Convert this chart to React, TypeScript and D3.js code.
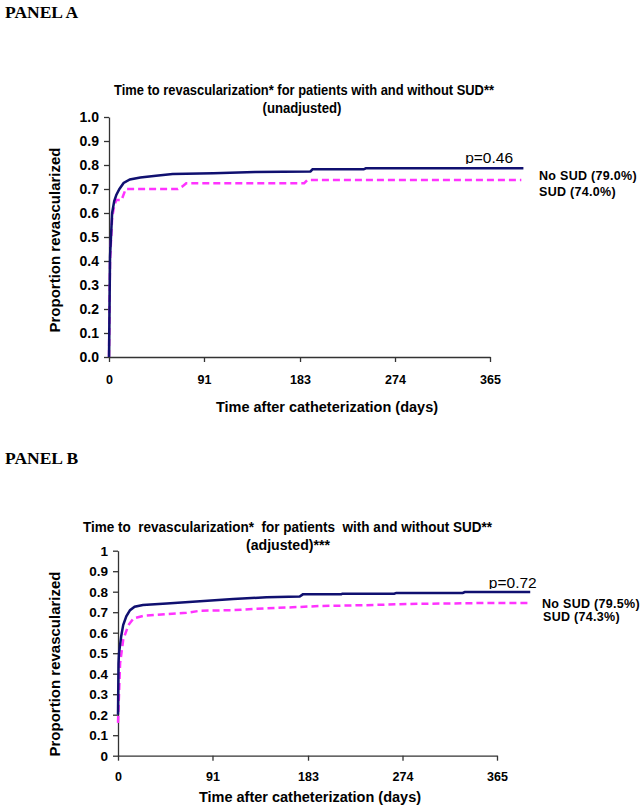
import React, { useRef, useEffect } from 'react';
import * as d3 from 'd3';

type Pt = [number, number];

const xTickValues = [0, 91, 183, 274, 365];
const yTickValues = [0, 0.1, 0.2, 0.3, 0.4, 0.5, 0.6, 0.7, 0.8, 0.9, 1.0];

// Panel A (unadjusted) - [day, proportion]
const noSudA: Pt[] = [
  [0, 0], [1, 0.42], [3, 0.6], [5, 0.65], [7, 0.675], [10, 0.7], [14, 0.725],
  [20, 0.74], [30, 0.748], [45, 0.755], [61, 0.762], [100, 0.766], [140, 0.771],
  [193, 0.773], [195, 0.782], [244, 0.782], [246, 0.786], [397, 0.786],
];
const sudA: Pt[] = [
  [0, 0], [1, 0.4], [3, 0.58], [5, 0.63], [7, 0.654], [12, 0.654], [16, 0.7],
  [66, 0.7], [70, 0.71], [74, 0.724], [187, 0.724], [190, 0.7375], [395, 0.7375],
];

// Panel B (adjusted)
const noSudB: Pt[] = [
  [0, 0.2], [0.5, 0.45], [1, 0.5], [3, 0.58], [5, 0.637], [8, 0.68], [11.6, 0.71],
  [16, 0.727], [24, 0.735], [47, 0.743], [79, 0.754], [111, 0.764], [143, 0.773],
  [175, 0.776], [178, 0.787], [215, 0.787], [216, 0.79], [266, 0.79], [268, 0.794],
  [332, 0.794], [334, 0.7985], [397, 0.7985],
];
const sudB: Pt[] = [
  [0, 0.16], [2, 0.45], [5, 0.565], [10, 0.637], [15, 0.67], [24, 0.682], [47, 0.691],
  [66, 0.697], [79, 0.707], [111, 0.71], [143, 0.719], [168, 0.724], [194, 0.73],
  [236, 0.734], [279, 0.74], [355, 0.745], [397, 0.745],
];

const FONT = "Arial, 'Liberation Sans', sans-serif";

const App: React.FC = () => {
  const ref = useRef<SVGSVGElement>(null);

  useEffect(() => {
    const svg = d3.select(ref.current);
    svg.selectAll('*').remove();

    const panels = [
      {
        label: 'PANEL A', labelY: 18,
        title1: 'Time to revascularization* for patients with and without SUD**',
        title2: '(unadjusted)', t1: [304, 95], t2: [302, 113], t1Len: 380, t2Len: 79,
        x0: 109, x1: 490, yb: 357, yt: 117,
        yFmt: d3.format('.1f'), yFont: 14,
        xLab: [327, 411.5], xTickY: 383.5, yLab: [60, 240],
        noSud: noSudA, sud: sudA,
        p: 'p=0.46', pPos: [513, 163],
        legend: ['No SUD (79.0%)', 'SUD (74.0%)'], legPos: [[539, 180], [539, 196]],
      },
      {
        label: 'PANEL B', labelY: 464,
        title1: 'Time to  revascularization*  for patients  with and without SUD**',
        title2: '(adjusted)***', t1: [287.5, 532], t2: [288, 550], t1Len: 409, t2Len: 84,
        x0: 118, x1: 497, yb: 755.7, yt: 550.7,
        yFmt: d3.format('~g'), yFont: 13.5,
        xLab: [310, 801.5], xTickY: 781.5, yLab: [60, 664],
        noSud: noSudB, sud: sudB,
        p: 'p=0.72', pPos: [536.7, 588],
        legend: ['No SUD (79.5%)', 'SUD (74.3%)'], legPos: [[542, 608], [543, 621]],
      },
    ];

    panels.forEach((pn, i) => {
      const g = svg.append('g');

      g.append('text')
        .attr('x', 5).attr('y', pn.labelY)
        .attr('font-family', "'Times New Roman', 'Liberation Serif', serif")
        .attr('font-weight', 'bold').attr('font-size', 17.5)
        .text(pn.label);

      g.append('text')
        .attr('x', pn.t1[0]).attr('y', pn.t1[1])
        .attr('text-anchor', 'middle')
        .attr('font-family', FONT).attr('font-weight', 'bold').attr('font-size', 14)
        .attr('textLength', pn.t1Len).attr('lengthAdjust', 'spacingAndGlyphs')
        .style('white-space', 'pre')
        .text(pn.title1);
      g.append('text')
        .attr('x', pn.t2[0]).attr('y', pn.t2[1])
        .attr('text-anchor', 'middle')
        .attr('font-family', FONT).attr('font-weight', 'bold').attr('font-size', 14)
        .attr('textLength', pn.t2Len).attr('lengthAdjust', 'spacingAndGlyphs')
        .text(pn.title2);

      const x = d3.scaleLinear().domain([0, 365]).range([pn.x0, pn.x1]);
      const y = d3.scaleLinear().domain([0, 1]).range([pn.yb, pn.yt]);

      // y axis
      const ya = g.append('g')
        .attr('transform', `translate(${pn.x0},0)`)
        .call(d3.axisLeft(y).tickValues(yTickValues).tickFormat(d => pn.yFmt(d as number)).tickSize(5).tickSizeOuter(0).tickPadding(5));
      ya.selectAll('text')
        .attr('font-family', FONT).attr('font-weight', 'bold').attr('font-size', pn.yFont)
        .attr('fill', '#000');

      // x axis
      const xa = g.append('g')
        .attr('transform', `translate(0,${pn.yb})`)
        .call(d3.axisBottom(x).tickValues(xTickValues).tickFormat(d3.format('d')).tickSize(5).tickSizeOuter(0));
      xa.selectAll('text')
        .attr('y', pn.xTickY - pn.yb).attr('dy', 0)
        .attr('font-family', FONT).attr('font-weight', 'bold').attr('font-size', 12.5)
        .attr('fill', '#000');

      [ya, xa].forEach(a => {
        a.select('.domain').attr('stroke', '#333').attr('stroke-width', 1.3);
        a.selectAll('.tick line').attr('stroke', '#333').attr('stroke-width', 1.3);
      });

      g.append('text')
        .attr('x', pn.xLab[0]).attr('y', pn.xLab[1])
        .attr('text-anchor', 'middle')
        .attr('font-family', FONT).attr('font-weight', 'bold').attr('font-size', 14.5)
        .text('Time after catheterization (days)');

      g.append('text')
        .attr('transform', `translate(${pn.yLab[0]},${pn.yLab[1]}) rotate(-90)`)
        .attr('text-anchor', 'middle')
        .attr('font-family', FONT).attr('font-weight', 'bold').attr('font-size', 15)
        .text('Proportion revascularized');

      const line = d3.line<Pt>().x(d => x(d[0])).y(d => y(d[1]));

      g.append('path').datum(pn.sud)
        .attr('fill', 'none').attr('stroke', '#ff33ff').attr('stroke-width', 2.5)
        .attr('stroke-dasharray', '7,4')
        .attr('d', line);
      g.append('path').datum(pn.noSud)
        .attr('fill', 'none').attr('stroke', '#101070').attr('stroke-width', 2.5)
        .attr('d', line);

      // p-value label, its descender is clipped like in the original
      const clipId = `pclip${i}`;
      svg.append('clipPath').attr('id', clipId)
        .append('rect').attr('x', 0).attr('y', 0).attr('width', 644).attr('height', pn.pPos[1] + 1);
      g.append('text')
        .attr('clip-path', `url(#${clipId})`)
        .attr('x', pn.pPos[0]).attr('y', pn.pPos[1])
        .attr('text-anchor', 'end')
        .attr('font-family', FONT).attr('font-size', 15.5)
        .text(pn.p);

      pn.legend.forEach((t, k) => {
        g.append('text')
          .attr('x', pn.legPos[k][0]).attr('y', pn.legPos[k][1])
          .attr('font-family', FONT).attr('font-weight', 'bold').attr('font-size', 12.5)
          .attr('letter-spacing', 0.3)
          .text(t);
      });
    });
  }, []);

  return (
    <svg ref={ref} width={644} height={807}
      style={{ position: 'absolute', left: 0, top: 0, background: '#fff' }} />
  );
};

export default App;
